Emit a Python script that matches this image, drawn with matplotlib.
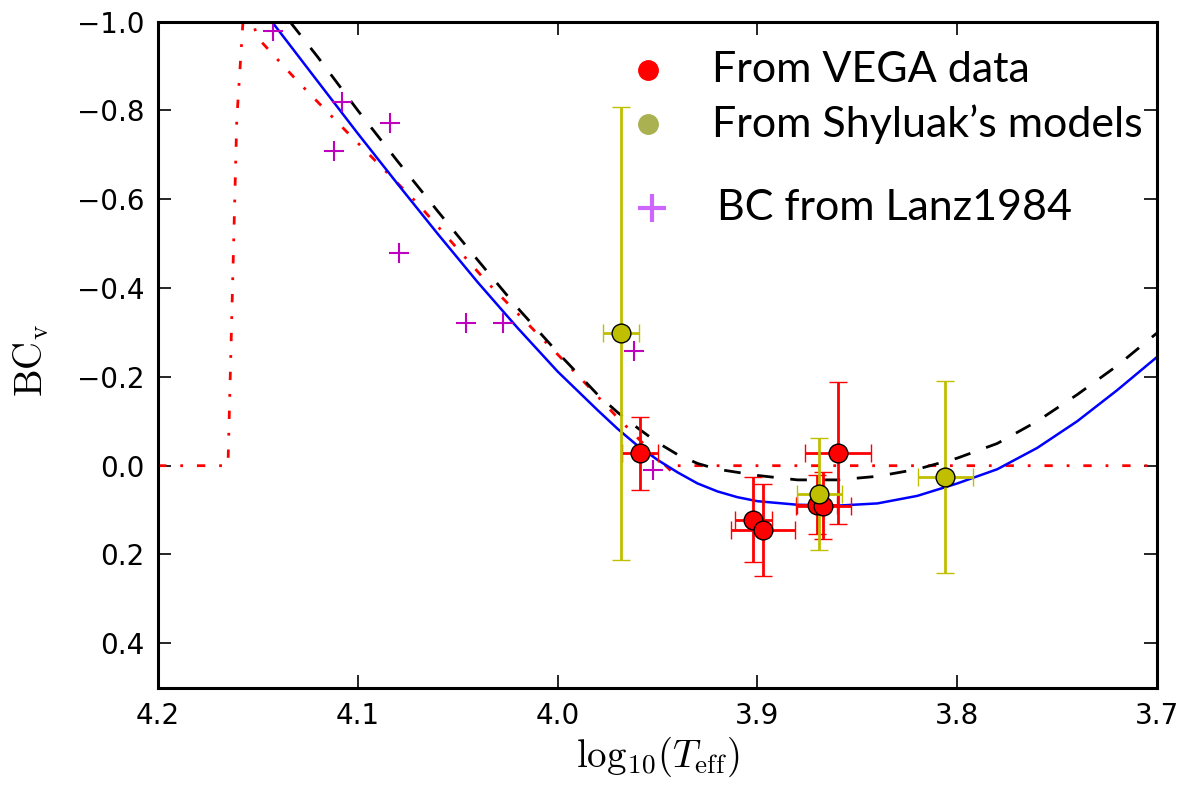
import matplotlib
matplotlib.use('Agg')
import matplotlib.pyplot as plt

plt.rcParams['mathtext.fontset'] = 'cm'
plt.rcParams['font.family'] = ['DejaVu Sans']

# model curves (log10 Teff, BC_v)
logt_blue = [4.143, 4.12, 4.10, 4.08, 4.06, 4.04, 4.02, 4.00, 3.98, 3.97, 3.96, 3.95, 3.94,
             3.93, 3.92, 3.91, 3.90, 3.88, 3.86, 3.84, 3.82, 3.80, 3.78, 3.76, 3.74, 3.72, 3.70]
bc_blue = [-1.0, -0.865, -0.748, -0.634, -0.522, -0.413, -0.31, -0.212, -0.125, -0.083, -0.045, -0.013, 0.015,
           0.04, 0.058, 0.071, 0.08, 0.088, 0.09, 0.085, 0.068, 0.04, 0.008, -0.04, -0.10, -0.17, -0.245]

logt_black = [4.134, 4.12, 4.10, 4.08, 4.06, 4.04, 4.02, 4.00, 3.98, 3.97, 3.96, 3.95, 3.94,
              3.93, 3.92, 3.90, 3.88, 3.86, 3.84, 3.82, 3.80, 3.78, 3.76, 3.74, 3.72, 3.70]
bc_black = [-1.0, -0.92, -0.80, -0.685, -0.573, -0.463, -0.355, -0.255, -0.16, -0.12, -0.085, -0.052, -0.025,
            -0.005, 0.008, 0.022, 0.032, 0.032, 0.024, 0.008, -0.017, -0.05, -0.10, -0.16, -0.225, -0.299]

logt_red = [4.2, 4.165, 4.1606, 4.1575, 4.155, 4.1506, 4.13, 4.1073, 4.07, 4.0355,
            3.9988, 3.9854, 3.9704, 3.955, 3.9421, 3.941, 3.7]
bc_red = [0.0, 0.0, -0.779, -1.0, -1.05, -0.966, -0.865, -0.76, -0.59, -0.414,
          -0.245, -0.182, -0.11, -0.04, 0.017, 0.0, 0.0]

# VEGA data points
vega_logt = [3.9588, 3.902, 3.8974, 3.8703, 3.867, 3.8595]
vega_bc = [-0.028, 0.122, 0.145, 0.088, 0.09, -0.029]
vega_xerr = [0.0092, 0.0094, 0.016, 0.010, 0.0138, 0.0165]
vega_yerr = [0.082, 0.096, 0.104, 0.066, 0.075, 0.16]

# Shyluak's models
shy_logt = [3.9684, 3.869, 3.8061]
shy_bc = [-0.298, 0.064, 0.025]
shy_xerr = [0.009, 0.0113, 0.0138]
shy_yerr = [0.51, 0.127, 0.216]

# Lanz 1984
lanz_logt = [4.1423, 4.1081, 4.0839, 4.1119, 4.0792, 4.0458, 4.0272, 3.9618, 3.9521]
lanz_bc = [-0.979, -0.818, -0.771, -0.709, -0.480, -0.321, -0.321, -0.259, 0.010]

legend_labels = ['From VEGA data', 'From Shyluak\u2019s models', 'BC from Lanz1984']

fig = plt.figure(figsize=(11.83, 7.86), dpi=100)
ax = fig.add_axes([0.1336, 0.1251, 0.8445, 0.8473])

ax.plot(logt_red, bc_red, color='red', lw=2, dashes=(3, 5, 1, 5))
ax.plot(logt_black, bc_black, color='black', lw=2, dashes=(6, 6))
ax.plot(logt_blue, bc_blue, color='blue', lw=1.8)

ax.errorbar(vega_logt, vega_bc, xerr=vega_xerr, yerr=vega_yerr, fmt='o',
            color='red', ecolor='red', mfc='red', mec='black', mew=1,
            ms=13.5, elinewidth=2, capsize=6.5, capthick=2)
ax.errorbar(shy_logt, shy_bc, xerr=shy_xerr, yerr=shy_yerr, fmt='o',
            color='#bfbf00', ecolor='#bfbf00', mfc='#bfbf00', mec='black', mew=1,
            ms=13.5, elinewidth=2, capsize=6.5, capthick=2)
ax.plot(lanz_logt, lanz_bc, '+', color='#bf00bf', ms=14, mew=1.5)

ax.set_xlim(4.2, 3.7)
ax.set_ylim(0.5, -1.0)
ax.set_xticks([4.2, 4.1, 4.0, 3.9, 3.8, 3.7])
ax.set_yticks([0.4, 0.2, 0.0, -0.2, -0.4, -0.6, -0.8, -1.0])
ax.tick_params(direction='in', length=9.5, width=1.2, labelsize=20,
               top=True, right=True, pad=10)
for sp in ax.spines.values():
    sp.set_linewidth(2.2)

ax.set_xlabel(r'$\mathrm{log}_{10}(T_{\rm eff})$', fontsize=28, labelpad=4)
ax.set_ylabel(r'$\mathrm{BC_v}$', fontsize=28)
ax.yaxis.set_label_coords(-0.107, 0.492)

# legend drawn as separate markers and text
leg_x = [0.4905, 0.4905, 0.4945]
leg_y = [0.9274, 0.8463, 0.7200]
leg_tx = [0.5546, 0.5546, 0.5596]
ax.plot(leg_x[0], leg_y[0], 'o', color='red', ms=14, transform=ax.transAxes, clip_on=False)
ax.plot(leg_x[1], leg_y[1], 'o', color='#a9b150', ms=14, transform=ax.transAxes, clip_on=False)
ax.plot(leg_x[2], leg_y[2], '+', color='#cc66ff', ms=20, mew=3, transform=ax.transAxes, clip_on=False)
for tx, ty, lab in zip(leg_tx, leg_y, legend_labels):
    ax.text(tx, ty, lab, transform=ax.transAxes, fontsize=31, family='Lato',
            va='center', ha='left')

fig.savefig('out.png', dpi=100)
